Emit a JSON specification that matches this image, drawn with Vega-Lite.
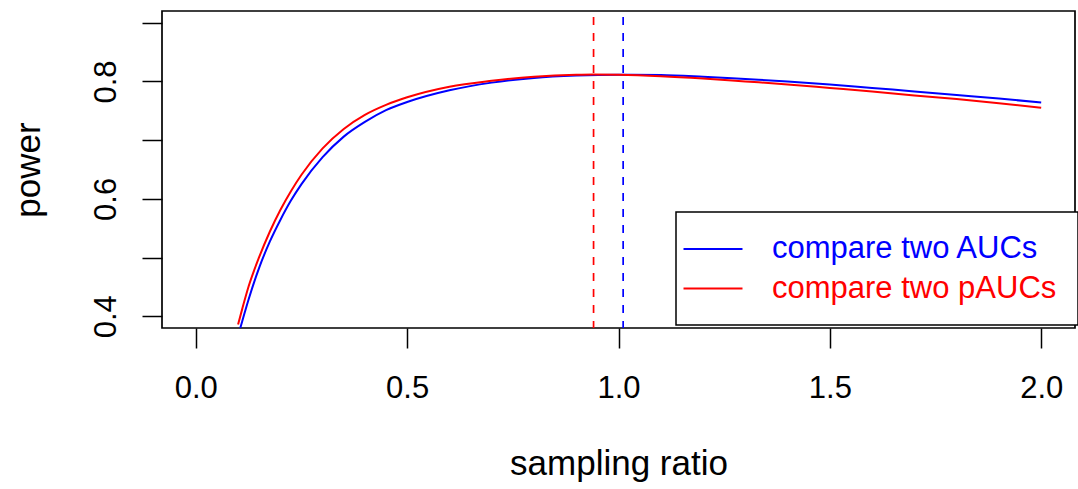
{
  "$schema": "https://vega.github.io/schema/vega-lite/v6.json",
  "width": 913,
  "height": 317,
  "autosize": "none",
  "padding": {"left": 162, "top": 11, "right": 3, "bottom": 161},
  "background": "white",
  "config": {
    "font": "Liberation Sans",
    "view": {"stroke": "black", "strokeWidth": 1.7},
    "axis": {
      "domain": false,
      "grid": false,
      "tickColor": "black",
      "tickWidth": 1.5,
      "tickSize": 20,
      "labelColor": "black",
      "labelFont": "Liberation Sans",
      "labelFontSize": 31,
      "labelFlush": false,
      "labelOverlap": false,
      "labelBound": false,
      "titleColor": "black",
      "titleFont": "Liberation Sans",
      "titleFontSize": 35,
      "titleFontWeight": "normal"
    }
  },
  "datasets": {
    "curves": [
      {"series": "compare two AUCs", "ratio": 0.1, "power": 0.367},
      {"series": "compare two AUCs", "ratio": 0.11, "power": 0.392},
      {"series": "compare two AUCs", "ratio": 0.125, "power": 0.429},
      {"series": "compare two AUCs", "ratio": 0.15, "power": 0.483},
      {"series": "compare two AUCs", "ratio": 0.175, "power": 0.527},
      {"series": "compare two AUCs", "ratio": 0.2, "power": 0.564},
      {"series": "compare two AUCs", "ratio": 0.225, "power": 0.597},
      {"series": "compare two AUCs", "ratio": 0.25, "power": 0.625},
      {"series": "compare two AUCs", "ratio": 0.3, "power": 0.671},
      {"series": "compare two AUCs", "ratio": 0.35, "power": 0.706},
      {"series": "compare two AUCs", "ratio": 0.4, "power": 0.731},
      {"series": "compare two AUCs", "ratio": 0.45, "power": 0.751},
      {"series": "compare two AUCs", "ratio": 0.5, "power": 0.765},
      {"series": "compare two AUCs", "ratio": 0.6, "power": 0.785},
      {"series": "compare two AUCs", "ratio": 0.7, "power": 0.798},
      {"series": "compare two AUCs", "ratio": 0.8, "power": 0.806},
      {"series": "compare two AUCs", "ratio": 0.9, "power": 0.81},
      {"series": "compare two AUCs", "ratio": 1.0, "power": 0.8115},
      {"series": "compare two AUCs", "ratio": 1.1, "power": 0.811},
      {"series": "compare two AUCs", "ratio": 1.2, "power": 0.808},
      {"series": "compare two AUCs", "ratio": 1.3, "power": 0.804},
      {"series": "compare two AUCs", "ratio": 1.4, "power": 0.8},
      {"series": "compare two AUCs", "ratio": 1.5, "power": 0.795},
      {"series": "compare two AUCs", "ratio": 1.6, "power": 0.789},
      {"series": "compare two AUCs", "ratio": 1.7, "power": 0.783},
      {"series": "compare two AUCs", "ratio": 1.8, "power": 0.777},
      {"series": "compare two AUCs", "ratio": 1.9, "power": 0.771},
      {"series": "compare two AUCs", "ratio": 2.0, "power": 0.764},
      {"series": "compare two pAUCs", "ratio": 0.1, "power": 0.386},
      {"series": "compare two pAUCs", "ratio": 0.11, "power": 0.413},
      {"series": "compare two pAUCs", "ratio": 0.125, "power": 0.451},
      {"series": "compare two pAUCs", "ratio": 0.15, "power": 0.501},
      {"series": "compare two pAUCs", "ratio": 0.175, "power": 0.544},
      {"series": "compare two pAUCs", "ratio": 0.2, "power": 0.581},
      {"series": "compare two pAUCs", "ratio": 0.225, "power": 0.613},
      {"series": "compare two pAUCs", "ratio": 0.25, "power": 0.641},
      {"series": "compare two pAUCs", "ratio": 0.3, "power": 0.686},
      {"series": "compare two pAUCs", "ratio": 0.35, "power": 0.719},
      {"series": "compare two pAUCs", "ratio": 0.4, "power": 0.743},
      {"series": "compare two pAUCs", "ratio": 0.45, "power": 0.76},
      {"series": "compare two pAUCs", "ratio": 0.5, "power": 0.773},
      {"series": "compare two pAUCs", "ratio": 0.6, "power": 0.791},
      {"series": "compare two pAUCs", "ratio": 0.7, "power": 0.801},
      {"series": "compare two pAUCs", "ratio": 0.8, "power": 0.808},
      {"series": "compare two pAUCs", "ratio": 0.9, "power": 0.8115},
      {"series": "compare two pAUCs", "ratio": 0.94, "power": 0.812},
      {"series": "compare two pAUCs", "ratio": 1.0, "power": 0.8115},
      {"series": "compare two pAUCs", "ratio": 1.1, "power": 0.809},
      {"series": "compare two pAUCs", "ratio": 1.2, "power": 0.805},
      {"series": "compare two pAUCs", "ratio": 1.3, "power": 0.8},
      {"series": "compare two pAUCs", "ratio": 1.4, "power": 0.795},
      {"series": "compare two pAUCs", "ratio": 1.5, "power": 0.789},
      {"series": "compare two pAUCs", "ratio": 1.6, "power": 0.783},
      {"series": "compare two pAUCs", "ratio": 1.7, "power": 0.776},
      {"series": "compare two pAUCs", "ratio": 1.8, "power": 0.77},
      {"series": "compare two pAUCs", "ratio": 1.9, "power": 0.763},
      {"series": "compare two pAUCs", "ratio": 2.0, "power": 0.755}
    ],
    "optimum": [
      {"series": "compare two AUCs", "ratio": 1.011},
      {"series": "compare two pAUCs", "ratio": 0.941}
    ]
  },
  "layer": [
    {
      "data": {"name": "optimum"},
      "transform": [{"filter": "datum.series == 'compare two AUCs'"}],
      "mark": {"type": "rule", "color": "#0000ff", "strokeWidth": 1.7, "strokeDash": [8, 8], "strokeDashOffset": 10},
      "encoding": {
        "x": {"field": "ratio", "type": "quantitative"}
      }
    },
    {
      "data": {"name": "optimum"},
      "transform": [{"filter": "datum.series == 'compare two pAUCs'"}],
      "mark": {"type": "rule", "color": "#ff0000", "strokeWidth": 1.7, "strokeDash": [8, 8], "strokeDashOffset": 10},
      "encoding": {
        "x": {"field": "ratio", "type": "quantitative"}
      }
    },
    {
      "data": {"name": "curves"},
      "mark": {"type": "line", "clip": true, "strokeWidth": 2, "interpolate": "monotone"},
      "encoding": {
        "x": {
          "field": "ratio",
          "type": "quantitative",
          "scale": {"domain": [-0.08, 2.08], "nice": false, "zero": false},
          "axis": {
            "values": [0, 0.5, 1, 1.5, 2],
            "format": ".1f",
            "title": "sampling ratio",
            "labelPadding": 25,
            "titleBaseline": "alphabetic",
            "titlePadding": 71
          }
        },
        "y": {
          "field": "power",
          "type": "quantitative",
          "scale": {"domain": [0.38, 0.92], "nice": false, "zero": false},
          "axis": {
            "values": [0.4, 0.5, 0.6, 0.7, 0.8, 0.9],
            "labelExpr": "round(datum.value * 10) % 2 == 0 ? format(datum.value, '.1f') : ''",
            "labelAngle": -90,
            "labelAlign": "center",
            "labelBaseline": "alphabetic",
            "labelPadding": 27,
            "title": "power",
            "titleBaseline": "alphabetic",
            "titlePadding": 51
          }
        },
        "color": {
          "field": "series",
          "type": "nominal",
          "scale": {"domain": ["compare two AUCs", "compare two pAUCs"], "range": ["#0000ff", "#ff0000"]},
          "legend": {
            "title": null,
            "orient": "none",
            "legendX": 514,
            "legendY": 201,
            "direction": "vertical",
            "padding": 21,
            "strokeColor": "black",
            "fillColor": "white",
            "symbolType": "M-2,0H2",
            "symbolSize": 870,
            "symbolStrokeWidth": 2,
            "labelFont": "Liberation Sans",
            "labelFontSize": 31,
            "labelOffset": 43,
            "labelLimit": 500,
            "rowPadding": 8.5,
            "encode": {
              "labels": {"update": {"fill": {"scale": "color", "field": "value"}}},
              "legend": {"update": {"strokeWidth": {"value": 1.5}}}
            }
          }
        }
      }
    }
  ]
}
